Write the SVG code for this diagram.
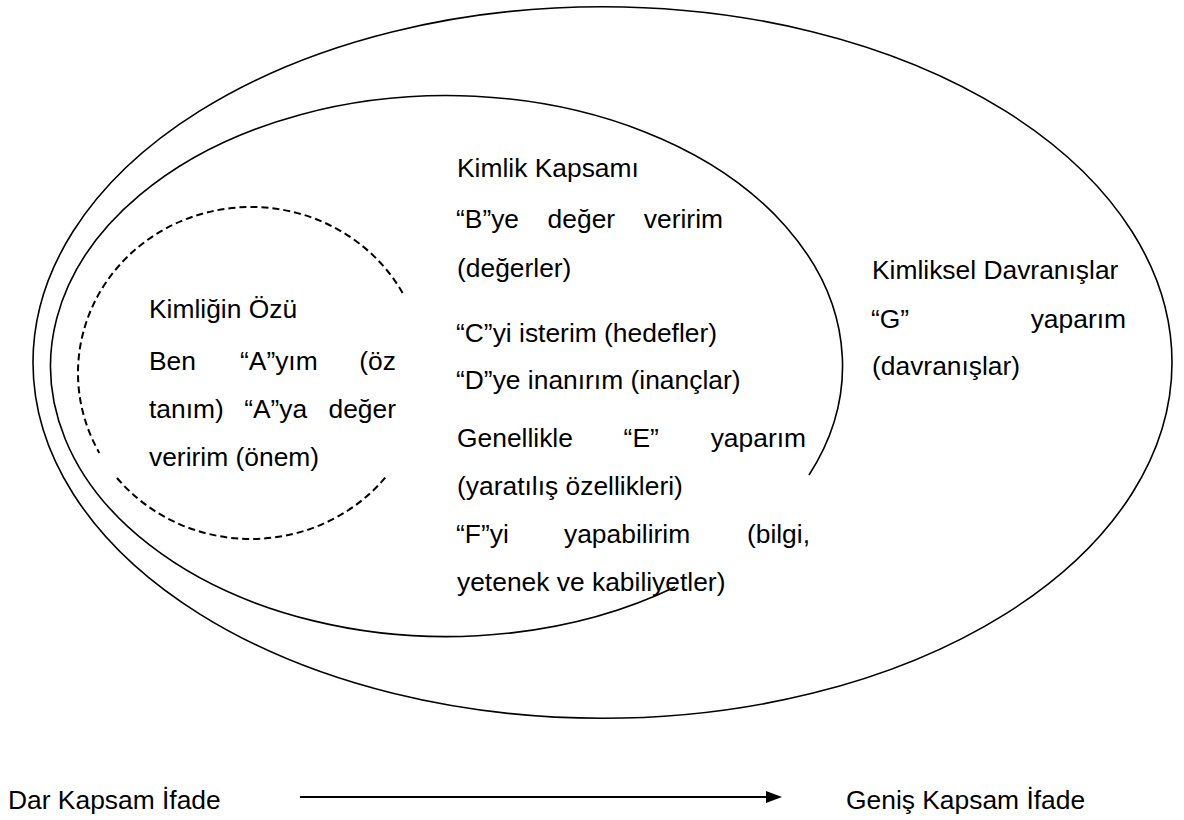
<svg xmlns="http://www.w3.org/2000/svg" width="1184" height="820" viewBox="0 0 1184 820">
<style>
  .t { font-family: "Liberation Sans", Arial, sans-serif; font-size: 26.4px; fill: #000; }
  .line { fill: none; stroke: #000; stroke-width: 1.6; }
  .dash { fill: none; stroke: #000; stroke-width: 2; stroke-dasharray: 7 4; }
</style>
<defs>
  <marker id="arrow" markerWidth="8" markerHeight="6" refX="1" refY="3" orient="auto" markerUnits="strokeWidth">
    <path d="M0,0 L8,3 L0,6 Z" fill="#000"/>
  </marker>
</defs>
<rect width="1184" height="820" fill="#fff"/>

<g id="outer-scope">
  <ellipse class="line" cx="602.5" cy="362.5" rx="569.5" ry="355.8"/>
  <text class="t" x="872" y="279">Kimliksel Davranışlar</text>
  <text class="t" y="328"><tspan x="871">“G”</tspan><tspan x="1126" text-anchor="end">yaparım</tspan></text>
  <text class="t" x="872" y="375">(davranışlar)</text>
</g>

<g id="identity-scope">
  <path class="line" d="M 675 587 A 396 270.5 0 1 1 809 475"/>
  <text class="t" x="457" y="177">Kimlik Kapsamı</text>
  <text class="t" y="228"><tspan x="456">“B”ye</tspan><tspan x="547.6">değer</tspan><tspan x="723" text-anchor="end">veririm</tspan></text>
  <text class="t" x="457" y="277">(değerler)</text>
  <text class="t" x="456" y="342">“C”yi isterim (hedefler)</text>
  <text class="t" x="456" y="389">“D”ye inanırım (inançlar)</text>
  <text class="t" y="447"><tspan x="457">Genellikle</tspan><tspan x="623.6">“E”</tspan><tspan x="806" text-anchor="end">yaparım</tspan></text>
  <text class="t" x="457" y="495">(yaratılış özellikleri)</text>
  <text class="t" y="543"><tspan x="456">“F”yi</tspan><tspan x="564">yapabilirim</tspan><tspan x="810" text-anchor="end">(bilgi,</tspan></text>
  <text class="t" x="457" y="591">yetenek ve kabiliyetler)</text>
</g>

<g id="identity-core">
  <path class="dash" d="M 402.6 293 A 173 166 0 0 0 78 373 A 173 166 0 0 0 99.4 453"/>
  <path class="dash" d="M 117 478 A 173 166 0 0 0 385.8 477"/>
  <text class="t" x="149" y="318">Kimliğin Özü</text>
  <text class="t" y="370"><tspan x="149">Ben</tspan><tspan x="240">“A”yım</tspan><tspan x="396" text-anchor="end">(öz</tspan></text>
  <text class="t" y="418"><tspan x="149">tanım)</tspan><tspan x="244.2">“A”ya</tspan><tspan x="396" text-anchor="end">değer</tspan></text>
  <text class="t" x="149" y="466">veririm (önem)</text>
</g>

<g id="narrow-label">
  <text class="t" x="8" y="809">Dar Kapsam İfade</text>
</g>
<g id="wide-label">
  <text class="t" x="846" y="809">Geniş Kapsam İfade</text>
</g>

<g id="connectors">
  <line x1="300" y1="797" x2="768" y2="797" stroke="#000" stroke-width="2" marker-end="url(#arrow)"/>
</g>
</svg>
